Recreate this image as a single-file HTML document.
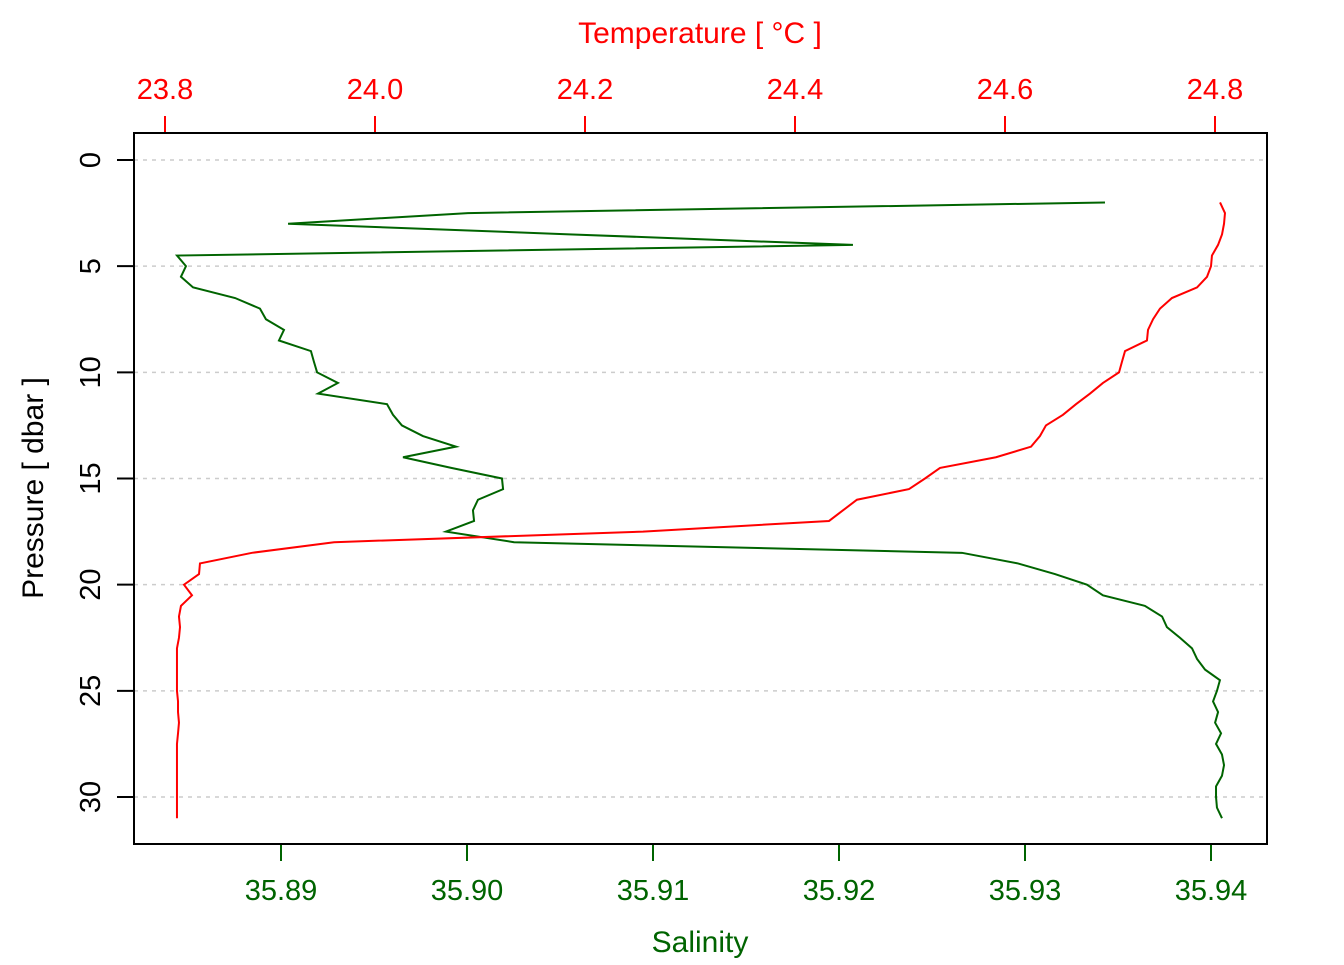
<!DOCTYPE html>
<html><head><meta charset="utf-8"><style>
body{margin:0;background:#fff}
svg text{font-family:"Liberation Sans",Arial,sans-serif}
</style></head><body>
<svg id="c" width="1344" height="960" xmlns="http://www.w3.org/2000/svg"></svg>
<script>
const pressure=[2,2.5,3,3.5,4,4.5,5,5.5,6,6.5,7,7.5,8,8.5,9,9.5,10,10.5,11,11.5,12,12.5,13,13.5,14,14.5,15,15.5,16,16.5,17,17.5,18,18.5,19,19.5,20,20.5,21,21.5,22,22.5,23,23.5,24,24.5,25,25.5,26,26.5,27,27.5,28,28.5,29,29.5,30,30.5,31];
const salinity=[35.9343,35.90005,35.89038,35.9055,35.92075,35.88441,35.88489,35.88462,35.88527,35.88753,35.88887,35.88919,35.89016,35.88989,35.89161,35.89177,35.89194,35.89306,35.89199,35.8957,35.89602,35.8965,35.89763,35.89941,35.89656,35.89915,35.90188,35.90194,35.90059,35.90032,35.90038,35.89887,35.90253,35.92661,35.92962,35.93161,35.93333,35.93419,35.93645,35.93737,35.93763,35.93833,35.93898,35.93925,35.93968,35.94048,35.94032,35.94011,35.94038,35.94022,35.94054,35.94027,35.94059,35.9407,35.94059,35.94027,35.94027,35.94032,35.94059];
const temperature=[24.8048,24.8095,24.8086,24.8067,24.8029,24.7971,24.7962,24.7924,24.7829,24.759,24.7476,24.741,24.7362,24.7352,24.7143,24.7114,24.7086,24.6933,24.681,24.6676,24.6552,24.639,24.6333,24.6248,24.5914,24.5381,24.5238,24.5086,24.459,24.4457,24.4324,24.2552,23.961,23.8829,23.8333,23.8324,23.8181,23.8257,23.8152,23.8133,23.8143,23.8133,23.8114,23.8114,23.8114,23.8114,23.8114,23.8124,23.8124,23.8133,23.8124,23.8114,23.8114,23.8114,23.8114,23.8114,23.8114,23.8114,23.8114];
const pTicks=[0,5,10,15,20,25,30];
const tTicks=[23.8,24.0,24.2,24.4,24.6,24.8];
const sTicks=[35.89,35.90,35.91,35.92,35.93,35.94];

const svg=document.getElementById('c');
const NS='http://www.w3.org/2000/svg';
const L=134,R=1267,T=133,B=844;
const yP=p=>160+p*(637/30);
const xT=t=>165+(t-23.8)*1050;
const xS=s=>281+(s-35.89)*18600;
function el(tag,attrs,txt){const e=document.createElementNS(NS,tag);for(const k in attrs)e.setAttribute(k,attrs[k]);if(txt!==undefined)e.textContent=txt;svg.appendChild(e);return e;}

pTicks.forEach(p=>{
  const g=el('line',{x1:L,x2:R,y1:yP(p),y2:yP(p),stroke:'#cccccc','stroke-width':1.5,'stroke-dasharray':'4,5'});
  
  
  const tk=el('line',{x1:L-17,x2:L,y1:yP(p),y2:yP(p),stroke:'#000','stroke-width':2});
  
  
  const tx=el('text',{x:0,y:0,'font-size':29,'text-anchor':'middle',transform:`translate(100,${yP(p)}) rotate(-90)`},String(p));
  
  
});
tTicks.forEach(t=>{
  const tk=el('line',{x1:xT(t),x2:xT(t),y1:T-17,y2:T,stroke:'#ff0000','stroke-width':2});
  
  
  const tx=el('text',{x:xT(t),y:99,'font-size':29,'text-anchor':'middle',fill:'#ff0000'},t.toFixed(1));
  
  
});
sTicks.forEach(s=>{
  const tk=el('line',{x1:xS(s),x2:xS(s),y1:B,y2:B+17,stroke:'#006400','stroke-width':2});
  
  
  const tx=el('text',{x:xS(s),y:900,'font-size':29,'text-anchor':'middle',fill:'#006400'},s.toFixed(2));
  
  
});
const sal=el('polyline',{points:pressure.map((p,i)=>xS(salinity[i])+','+yP(p)).join(' '),fill:'none',stroke:'#006400','stroke-width':2});


const tem=el('polyline',{points:pressure.map((p,i)=>xT(temperature[i])+','+yP(p)).join(' '),fill:'none',stroke:'#ff0000','stroke-width':2});


const box=el('rect',{x:L,y:T,width:R-L,height:B-T,fill:'none',stroke:'#000','stroke-width':2});


const t1=el('text',{x:700,y:43,'font-size':30,'text-anchor':'middle',fill:'#ff0000'},'Temperature [ °C ]');


const t2=el('text',{x:700,y:952,'font-size':30,'text-anchor':'middle',fill:'#006400'},'Salinity');


const t3=el('text',{x:0,y:0,'font-size':30,'text-anchor':'middle',transform:'translate(43,488) rotate(-90)'},'Pressure [ dbar ]');


</script>
</body></html>
